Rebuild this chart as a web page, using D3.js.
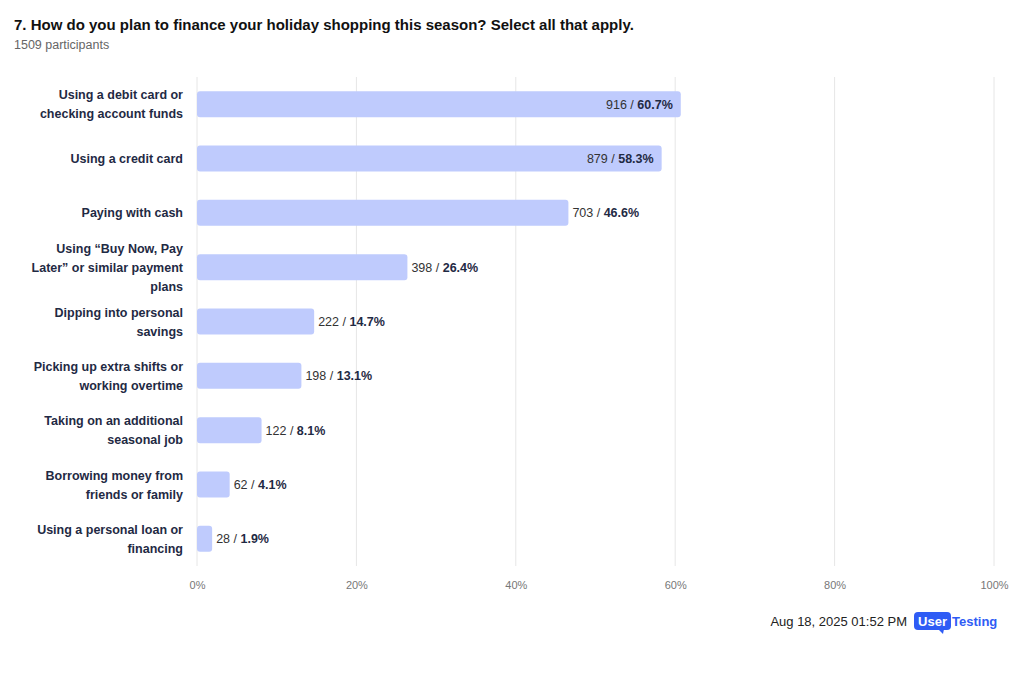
<!DOCTYPE html>
<html>
<head>
<meta charset="utf-8">
<script src="https://cdn.jsdelivr.net/npm/d3@7"></script>
<style>
  body { margin: 0; background: #fff; font-family: "Liberation Sans", Arial, sans-serif; }
</style>
</head>
<body>
<svg id="chart" width="1024" height="688"></svg>
<script>
const categories = [
  ["Using a debit card or", "checking account funds"],
  ["Using a credit card"],
  ["Paying with cash"],
  ["Using \u201cBuy Now, Pay", "Later\u201d or similar payment", "plans"],
  ["Dipping into personal", "savings"],
  ["Picking up extra shifts or", "working overtime"],
  ["Taking on an additional", "seasonal job"],
  ["Borrowing money from", "friends or family"],
  ["Using a personal loan or", "financing"]
];
const counts = [916, 879, 703, 398, 222, 198, 122, 62, 28];
const percents = [60.7, 58.3, 46.6, 26.4, 14.7, 13.1, 8.1, 4.1, 1.9];
const tickValues = [0, 20, 40, 60, 80, 100];

const svg = d3.select("#chart");
const x = d3.scaleLinear().domain([0, 100]).range([197, 994]);
const y = d3.scaleBand().domain(d3.range(counts.length)).range([77, 566]).paddingInner(0.52).paddingOuter(0.26);

svg.append("text").attr("x", 14).attr("y", 30).attr("font-size", 15).attr("font-weight", "bold")
  .attr("fill", "#111").text("7. How do you plan to finance your holiday shopping this season? Select all that apply.");
svg.append("text").attr("x", 14).attr("y", 49).attr("font-size", 12.5).attr("fill", "#666").text("1509 participants");

// grid
svg.append("g").selectAll("line").data(tickValues).join("line")
  .attr("x1", d => x(d)).attr("x2", d => x(d)).attr("y1", 77).attr("y2", 566)
  .attr("stroke", "#e6e6e6");

const xAxis = svg.append("g").attr("transform", "translate(0,566)")
  .call(d3.axisBottom(x).tickValues(tickValues).tickFormat(d => d + "%").tickSize(0).tickPadding(15));
xAxis.select(".domain").remove();
xAxis.selectAll("text").attr("font-size", 11).attr("fill", "#777").attr("font-family", "Liberation Sans, Arial, sans-serif");

// bars
const bars = svg.append("g").selectAll("g").data(counts).join("g");
bars.append("rect")
  .attr("x", x(0)).attr("y", (d, i) => y(i))
  .attr("width", (d, i) => x(percents[i]) - x(0)).attr("height", y.bandwidth())
  .attr("rx", 3).attr("fill", "#bfcbfd");

bars.append("text")
  .attr("x", (d, i) => percents[i] > 50 ? x(percents[i]) - 8 : x(percents[i]) + 4)
  .attr("y", (d, i) => y(i) + y.bandwidth() / 2 + 4.5)
  .attr("text-anchor", (d, i) => percents[i] > 50 ? "end" : "start")
  .attr("font-size", 12.5).attr("fill", "#333")
  .each(function (d, i) {
    const t = d3.select(this);
    t.append("tspan").text(d + " / ");
    t.append("tspan").attr("font-weight", "bold").attr("fill", "#1f2a44").text(percents[i] + "%");
  });

// category labels
bars.append("text")
  .attr("text-anchor", "end").attr("font-size", 12.5).attr("font-weight", "bold").attr("fill", "#1f2a44")
  .each(function (d, i) {
    const lines = categories[i];
    const cy = y(i) + y.bandwidth() / 2;
    const top = cy - (lines.length - 1) * 19 / 2 + 4.5;
    d3.select(this).selectAll("tspan").data(lines).join("tspan")
      .attr("x", 183).attr("y", (l, k) => top + k * 19).text(l => l);
  });

// footer
svg.append("text").attr("x", 907).attr("y", 626).attr("text-anchor", "end").attr("font-size", 13)
  .attr("fill", "#222").text("Aug 18, 2025  01:52 PM");
svg.append("rect").attr("x", 914).attr("y", 612).attr("width", 37).attr("height", 18).attr("rx", 4).attr("fill", "#2f5cf5");
svg.append("path").attr("d", "M938,629 L944,629 L943,634 Z").attr("fill", "#2f5cf5");
svg.append("text").attr("x", 932.5).attr("y", 626).attr("text-anchor", "middle").attr("font-size", 13)
  .attr("font-weight", "bold").attr("fill", "#fff").text("User");
svg.append("text").attr("x", 952).attr("y", 626).attr("font-size", 13).attr("font-weight", "bold")
  .attr("fill", "#2f5cf5").text("Testing");
</script>
</body>
</html>
